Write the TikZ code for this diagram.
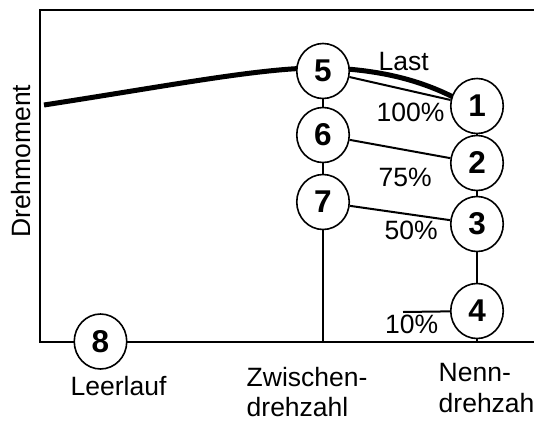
\documentclass[tikz,border=0pt]{standalone}
\usepackage{fontspec}
\setmainfont{Liberation Sans}
\usetikzlibrary{shapes.geometric}
\begin{document}
\begin{tikzpicture}[x=1pt,y=-1pt,
  state/.style={ellipse,draw,line width=1.6pt,fill=white,minimum width=52.5pt,minimum height=55pt,inner sep=0pt,font=\fontsize{31.5}{31.5}\selectfont\bfseries},
  lbl/.style={inner sep=0pt,anchor=base west,font=\fontsize{26.5}{31}\selectfont},
  conn/.style={line width=2pt},
  axis/.style={line width=2.3pt}]
\useasboundingbox (0,0) rectangle (534,420);
% axes
\coordinate (TL) at (40,10);
\coordinate (TR) at (534,10);
\coordinate (O) at (40,342);
\coordinate (BR) at (534,342);
\draw[axis] (TR) -- (TL) -- (O) -- (BR);
% full-load curve
\coordinate (c0) at (44,105);
\coordinate (c1) at (330,68);
\coordinate (c2) at (455,98);
\draw[line width=5pt] (c0) .. controls (180,84) and (270,66) .. (c1)
   .. controls (380,70) and (420,80) .. (c2);
% nodes
\node[state] (n5) at (323,71) {5};
\node[state] (n6) at (323,135) {6};
\node[state] (n7) at (323,202) {7};
\node[state] (n1) at (477,106) {1};
\node[state] (n2) at (477,163) {2};
\node[state] (n3) at (477,224) {3};
\node[state] (n4) at (477,311) {4};
\node[state] (n8) at (100.5,341.5) {8};
% connectors
\draw[conn] (n5) -- (n6);
\draw[conn] (n6) -- (n7);
\draw[conn] (n7) -- (n7 |- O);
\draw[conn] (n1) -- (n2);
\draw[conn] (n2) -- (n3);
\draw[conn] (n3) -- (n4);
\draw[conn] (n4) -- (n4 |- O);
\draw[conn] (n5) -- (n1);
\draw[conn] (n6) -- (n2);
\draw[conn] (n7) -- (n3);
\coordinate (p10) at (403,312);
\draw[conn] (p10) -- (n4);
% labels
\node[lbl] (tLast) at (378.5,70) {Last};
\node[lbl] (t100) at (376.5,121.5) {100\%};
\node[lbl] (t75) at (378.5,186.5) {75\%};
\node[lbl] (t50) at (384.5,239) {50\%};
\node[lbl] (t10) at (385,333) {10\%};
\node[lbl] (tLeer) at (70.5,395) {Leerlauf};
\node[lbl] (tZw1) at (246.5,386.5) {Zwischen-};
\node[lbl] (tZw2) at (246.5,416.5) {drehzahl};
\node[lbl] (tNe1) at (438.5,381.5) {Nenn-};
\node[lbl] (tNe2) at (438.5,412.5) {drehzahl};
\node[lbl,rotate=90] (tDreh) at (30,238) {Drehmoment};
\end{tikzpicture}
\end{document}
